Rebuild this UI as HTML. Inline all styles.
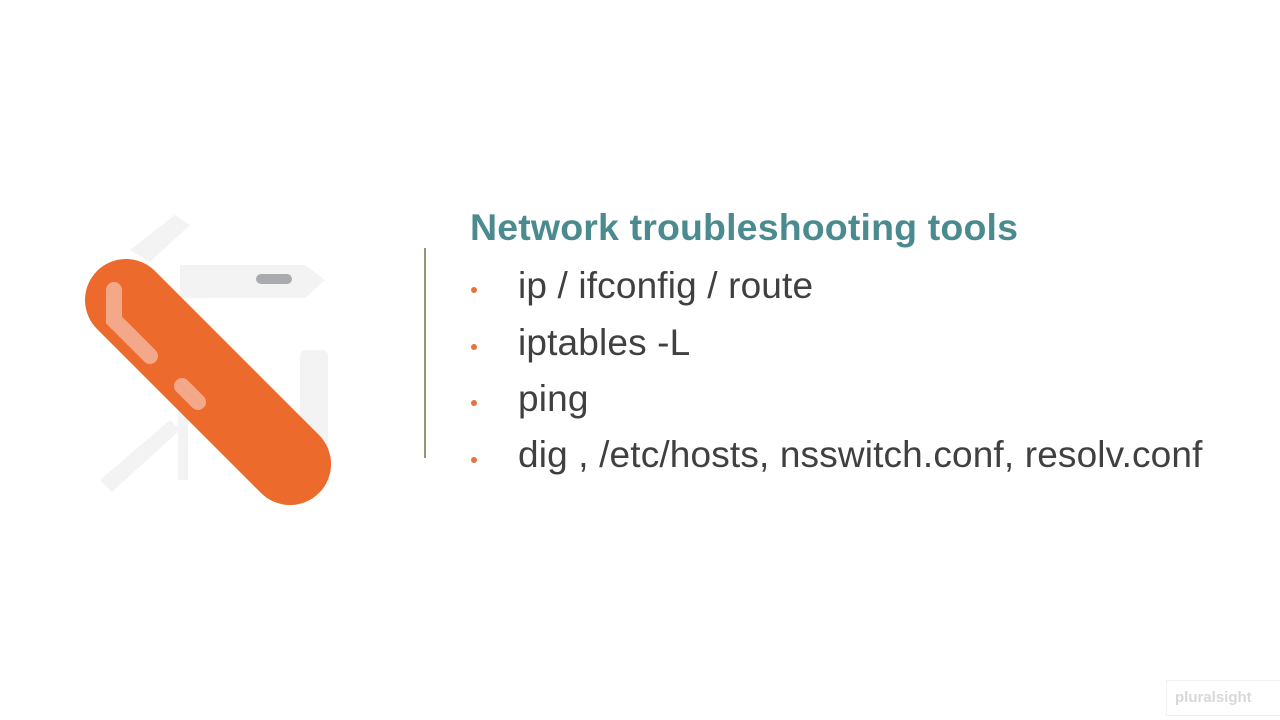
<!DOCTYPE html>
<html><head><style>
body{margin:0;width:1280px;height:720px;background:#fff;overflow:hidden;position:relative;font-family:"Liberation Sans",sans-serif}
.t{position:absolute;left:470px;top:206px;font-size:37.5px;font-weight:bold;color:#4b8b90;white-space:nowrap;letter-spacing:0.15px}
.b{position:absolute;left:518px;font-size:37px;color:#404040;white-space:nowrap;letter-spacing:0.15px}
.d{position:absolute;left:471px;width:6px;height:6px;border-radius:3px;background:#e8723c}
.v{position:absolute;left:424px;top:248px;width:2px;height:210px;background:#8e9a74}
</style></head><body>
<svg width="420" height="560" style="position:absolute;left:0;top:0">
<g fill="#f3f3f3">
<path d="M180 265 L305 265 L325 280 L305 298 L180 298 Z"/>
<path d="M130 250 L175 215 L190 225 L150 262 Z"/>
<rect x="300" y="350" width="28" height="110" rx="6"/>
<rect x="178" y="400" width="10" height="80"/>
<path d="M100 480 L170 420 L180 430 L112 492 Z"/>
</g>
<rect x="256" y="274" width="36" height="10" rx="5" fill="#a9abae"/>
<g transform="translate(126,300) rotate(45)">
<rect x="-41" y="-41" width="314" height="82" rx="41" fill="#ec6a2c"/>
</g>
<path d="M114 290 L114 320 L150 356" stroke="#f3a88a" stroke-width="16" stroke-linecap="round" fill="none"/>
<path d="M182 386 L198 402" stroke="#f3a88a" stroke-width="16" stroke-linecap="round" fill="none"/>
</svg>
<div class="v"></div>
<div class="t">Network troubleshooting tools</div>
<div class="d" style="top:287px"></div><div class="b" style="top:265px">ip / ifconfig / route</div>
<div class="d" style="top:344px"></div><div class="b" style="top:322px">iptables -L</div>
<div class="d" style="top:400px"></div><div class="b" style="top:378px">ping</div>
<div class="d" style="top:457px"></div><div class="b" style="top:434px">dig , /etc/hosts, nsswitch.conf, resolv.conf</div>
<div style="position:absolute;left:1166px;top:680px;width:114px;height:34px;border:1px solid #f0f0f0;color:#d8d8d8;font-size:15px;font-weight:bold;line-height:34px;padding-left:8px">pluralsight</div>
</body></html>
